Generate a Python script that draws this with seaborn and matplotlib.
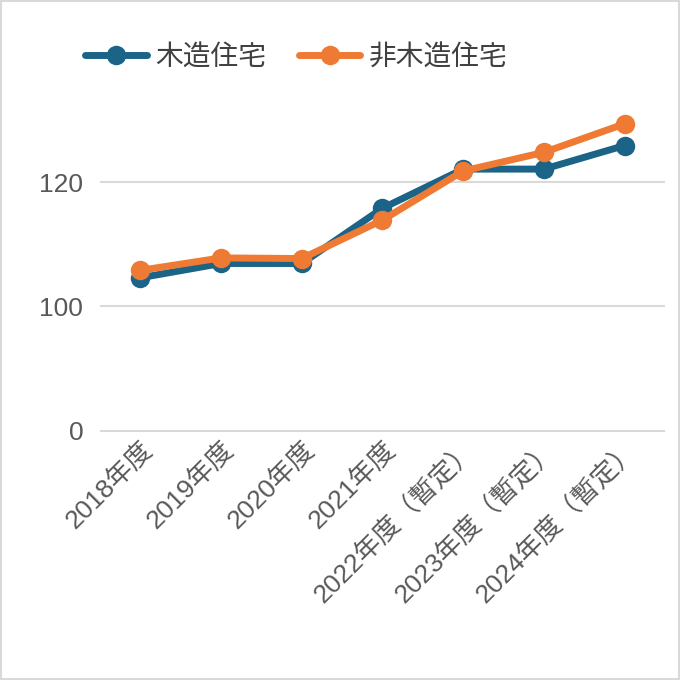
import matplotlib
matplotlib.use("Agg")
import matplotlib.pyplot as plt
import seaborn as sns
import pandas as pd

categories = ["2018年度", "2019年度", "2020年度", "2021年度", "2022年度（暫定）", "2023年度（暫定）", "2024年度（暫定）"]
wood = [104.6, 106.9, 106.9, 115.8, 122.1, 122.1, 125.9]
nonwood = [105.8, 107.8, 107.7, 113.9, 121.8, 124.8, 129.4]
tick_vals = [80, 100, 120]
tick_labels = ["0", "100", "120"]

sns.set_theme(style="white")
plt.rcParams['font.family'] = ['Liberation Sans', 'Noto Sans CJK JP', 'DejaVu Sans']

df = pd.DataFrame({"cat": categories * 2,
                   "val": wood + nonwood,
                   "series": ["木造住宅"] * 7 + ["非木造住宅"] * 7})

fig = plt.figure(figsize=(6.8, 6.8), dpi=100)
ax = fig.add_axes([0.147, 0.365, 0.831, 0.495])
sns.lineplot(data=df, x="cat", y="val", hue="series", sort=False,
             palette=["#1C6487", "#EE7A34"], marker="o", markersize=14,
             markeredgewidth=0, linewidth=5, ax=ax)
ax.set_xlim(-0.5, 6.5)
ax.set_ylim(79.8, 134)
ax.set_yticks(tick_vals)
ax.set_yticklabels(tick_labels, fontsize=19, color="#595959")
ax.yaxis.grid(True, color="#D9D9D9", linewidth=1.5)
for s in ax.spines.values():
    s.set_visible(False)
ax.tick_params(axis="both", length=0)
ax.tick_params(axis="y", pad=12)
ax.set_xlabel(""); ax.set_ylabel("")
plt.setp(ax.get_xticklabels(), rotation=45, ha="right", rotation_mode="anchor",
         fontsize=19, color="#595959")
leg = ax.legend(loc="center left", bbox_to_anchor=(-0.07, 1.11), ncol=2, frameon=False,
                fontsize=20, handlelength=2.2, columnspacing=1.2, handletextpad=0.3)
for t in leg.get_texts():
    t.set_color("#404040")
fig.patches.append(plt.Rectangle((0.002, 0.002), 0.996, 0.996, transform=fig.transFigure,
                                 fill=False, edgecolor="#D9D9D9", linewidth=1.5))
fig.savefig("out.png", dpi=100)
